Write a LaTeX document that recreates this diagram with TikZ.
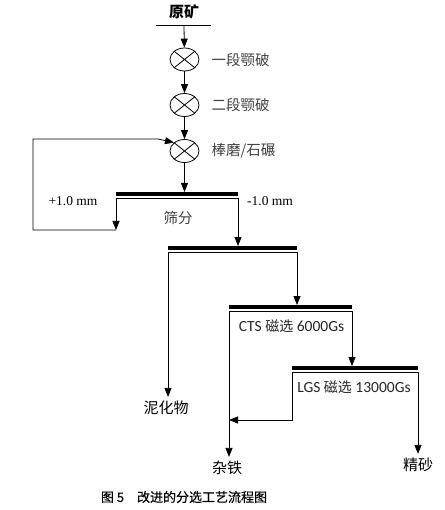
\documentclass[tikz,border=0pt]{standalone}
\usepackage{fontspec}
\setmainfont{Liberation Serif}
\setsansfont{Carlito}
\newfontfamily\cjk{Noto Sans CJK SC}
\newfontfamily\cjkcap[FakeBold=0.4]{Noto Sans CJK SC}
\usetikzlibrary{shapes.geometric,arrows.meta,positioning}

\tikzset{
  line/.style={line width=0.8pt},
  flow/.style={line width=0.8pt,-{Triangle[width=7pt,length=9pt]}},
  crusher/.style={draw,ellipse,line width=0.8pt,minimum width=29pt,minimum height=23pt,inner sep=0pt},
  bar/.style={line width=4pt},
  cjklab/.style={font=\cjk\fontsize{14.5}{16}\selectfont,text=black!75,inner sep=4pt},
  prodlab/.style={font=\cjk\fontsize{15}{17}\selectfont,inner sep=4pt},
  sizelab/.style={font=\fontsize{13.5}{15}\selectfont,inner sep=1pt},
  maglab/.style={font=\sffamily\fontsize{15.5}{17}\selectfont,text=black!85,inner sep=1pt},
}
\newcommand{\cjkmag}{{\cjk\fontsize{14}{16}\selectfont 磁选}}

\begin{document}
\begin{tikzpicture}[x=1pt,y=-1pt]
	\useasboundingbox (0,0) rectangle (444,510);

	% feed
	\node[font=\cjk\bfseries\fontsize{15}{17}\selectfont] (ore) at (184,12) {原矿};
	\coordinate (oreline) at (184,25);
	\draw[line] ([xshift=-28pt]oreline) -- ([xshift=27pt]oreline);

	% crushing and grinding
	\node[crusher] (c1) at (184.5,59.5) {};
	\node[crusher] (c2) at (184.5,105) {};
	\node[crusher] (mill) at (184.5,151) {};
	\foreach \c in {c1,c2,mill}
		\draw[line] (\c.north west) -- (\c.south east) (\c.north east) -- (\c.south west);
	\node[cjklab,right=8pt of c1] (t1) {一段颚破};
	\node[cjklab,right=8pt of c2] (t2) {二段颚破};
	\node[cjklab,right=8pt of mill] (t3) {棒磨/石碾};

	\draw[flow] (oreline) -- (c1);
	\draw[flow] (c1) -- (c2);
	\draw[flow] (c2) -- (mill);

	% screens: name/left/right/top
	\foreach \n/\xl/\xr/\y in {sa/116/238/192, sb/168/297/246, sc/229/352/305, sd/292/418/366}{
		\coordinate (\n) at (\xl,\y);
		\coordinate (\n-l) at (\xl,\y+6);
		\coordinate (\n-r) at (\xr,\y+6);
		\draw[bar] (\xl,\y+2) -- (\xr,\y+2);
		\draw[line] (\n-l) -- (\n-r);
	}

	% screening
	\draw[flow] (mill) -- (mill |- sa);
	\node[sizelab] (plus) at (73,201) {+1.0 mm};
	\node[sizelab] (minus) at (270,201) {-1.0 mm};
	\node[cjklab] (scr) at (178,218) {筛分};
	\coordinate (ret) at (116,230);
	\coordinate (bend) at (158,139);
	\draw[flow] (sa-l) -- (ret);
	\draw[flow] (ret) -- ++(-83,0) |- (bend) -- (mill.north west);
	\draw[flow] (sa-r) -- (sa-r |- sb);

	% desliming
	\node[prodlab] (mud) at (166,408) {泥化物};
	\draw[flow] (sb-l) -- (sb-l |- mud.north);
	\draw[flow] (sb-r) -- (sb-r |- sc);

	% magnetic separation
	\node[maglab] (cts) at (291.5,326) {CTS \cjkmag{} 6000Gs};
	\node[maglab] (lgs) at (354,387) {LGS \cjkmag{} 13000Gs};
	\node[prodlab] (fe) at (227,468) {杂铁};
	\node[prodlab] (conc) at (418,465) {精砂};
	\coordinate (merge) at (229,420);
	\draw[flow] (sc-l) -- (sc-l |- fe.north);
	\draw[flow] (sc-r) -- (sc-r |- sd);
	\draw[flow] (sd-l) |- (merge);
	\draw[flow] (sd-r) -- (sd-r |- conc.north);

	% caption
	\node[font=\cjkcap\fontsize{13}{15}\selectfont] (cap) at (184,497) {图 5\quad 改进的分选工艺流程图};
\end{tikzpicture}
\end{document}
